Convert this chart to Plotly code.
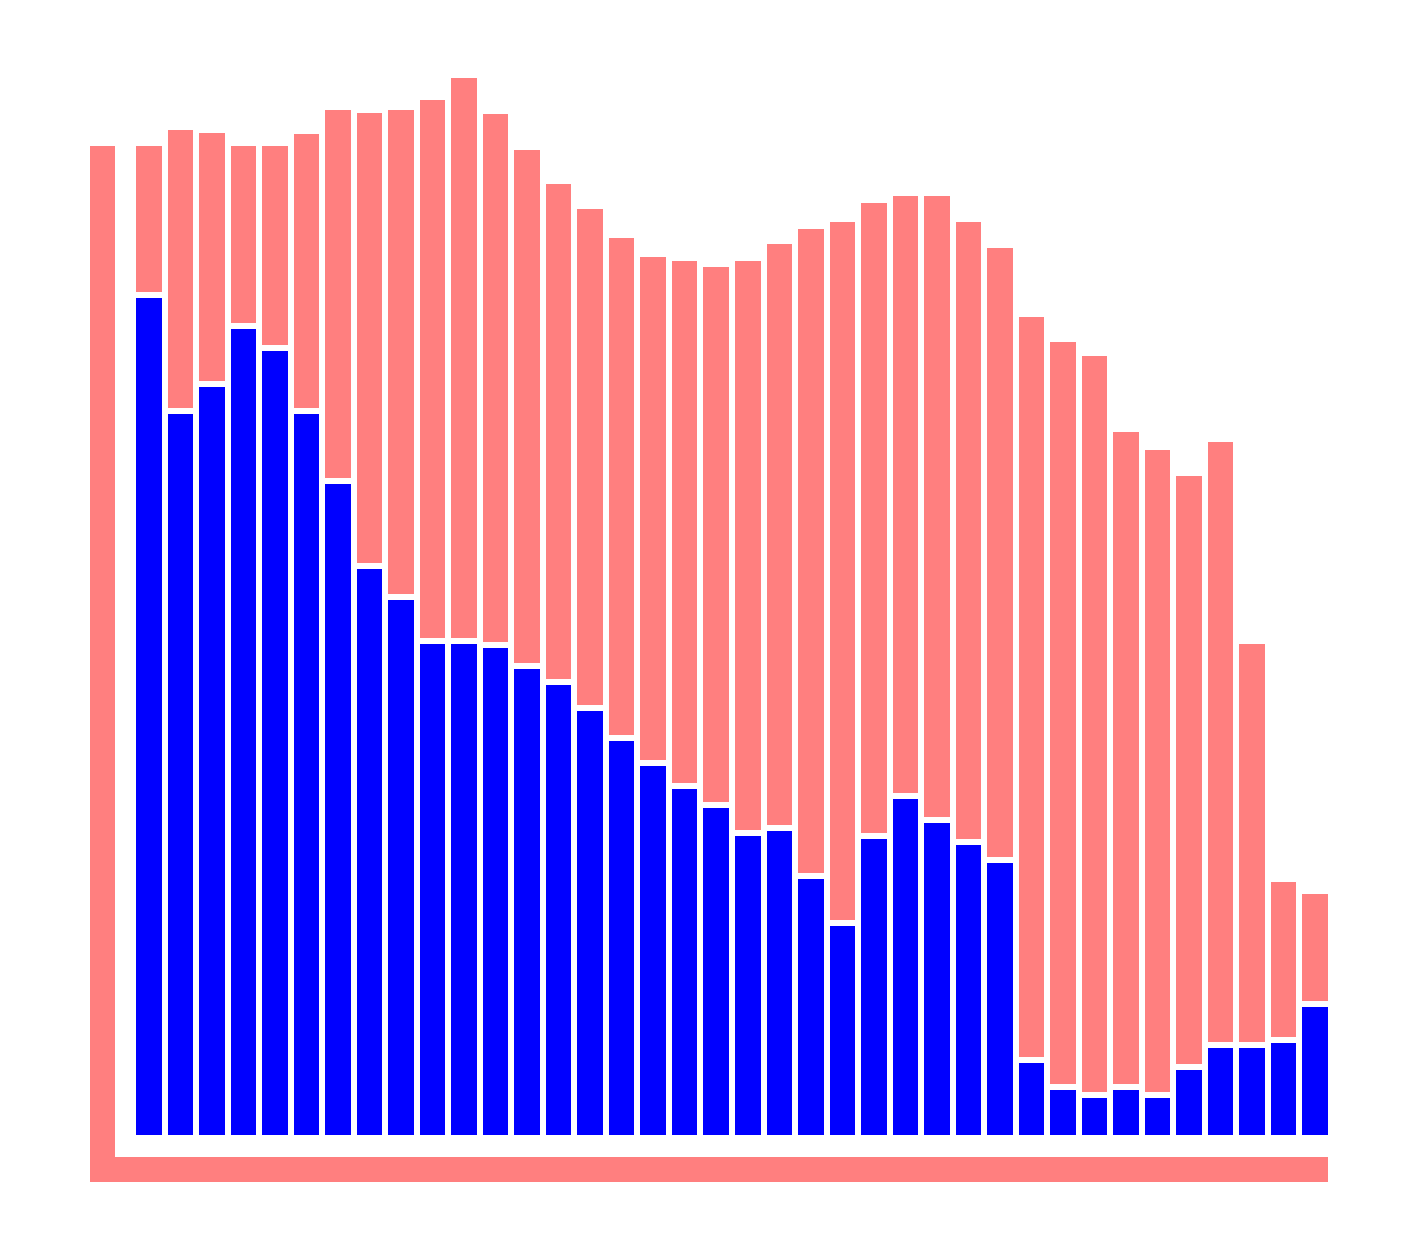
import plotly.graph_objects as go

# ---- data ----
categories = list(range(38))

blue_values = [84.3, 72.7, 75.4, 81.2, 79.0, 72.7, 65.7, 57.2, 54.1, 49.75,
               49.75, 49.3, 47.2, 45.6, 43.0, 40.0, 37.5, 35.25, 33.3, 30.5,
               31.0, 26.2, 21.55, 30.2, 34.2, 31.8, 29.65, 27.8, 7.8, 5.1,
               4.3, 5.1, 4.3, 7.1, 9.35, 9.35, 9.8, 13.4]

pink_values = [15.2, 28.4, 25.4, 18.3, 20.5, 28.0, 37.4, 45.6, 49.0, 54.35,
               56.55, 53.4, 51.9, 50.1, 50.2, 50.3, 50.9, 52.75, 54.1, 57.5,
               58.7, 65.0, 70.35, 63.6, 60.3, 62.7, 62.25, 61.5, 74.6, 74.8,
               74.2, 65.8, 64.8, 59.4, 60.55, 40.35, 16.1, 11.3]

# ---- style ----
BLUE = "#0000FF"
PINK = "#FF7F7F"
OFF = 8  # page body margin
W, H = 1418, 1260
ML, MR, MT, MB = 125, 95, 52, 130
PW, PH = W - ML - MR, H - MT - MB

fig = go.Figure()
fig.add_trace(go.Bar(x=categories, y=blue_values,
                     marker=dict(color=BLUE, line=dict(color="white", width=6.5)),
                     hoverinfo="y"))
fig.add_trace(go.Bar(x=categories, y=pink_values,
                     marker=dict(color=PINK, line=dict(color="white", width=6.5)),
                     hoverinfo="y"))


def px_x(p):
    return (p - OFF - ML) / PW


def px_y(p):
    return (H - MB - (p - OFF)) / PH


# L-shaped offset axis decorations
fig.add_shape(type="rect", xref="paper", yref="paper",
              x0=px_x(90), x1=px_x(115), y0=px_y(1182), y1=px_y(146),
              fillcolor=PINK, line=dict(width=0), layer="below")
fig.add_shape(type="rect", xref="paper", yref="paper",
              x0=px_x(90), x1=px_x(1328), y0=px_y(1182), y1=px_y(1157),
              fillcolor=PINK, line=dict(width=0), layer="below")

fig.update_layout(
    width=W, height=H,
    margin=dict(l=ML, r=MR, t=MT, b=MB, autoexpand=False),
    barmode="stack", bargap=0,
    showlegend=False,
    paper_bgcolor="white", plot_bgcolor="white",
    xaxis=dict(range=[-0.5, len(categories) - 0.5], showticklabels=False, showgrid=False,
               zeroline=False, showline=False, ticks=""),
    yaxis=dict(range=[0, PH / 10], showticklabels=False, showgrid=False,
               zeroline=False, showline=False, ticks=""),
)

fig.write_html("out.html")
